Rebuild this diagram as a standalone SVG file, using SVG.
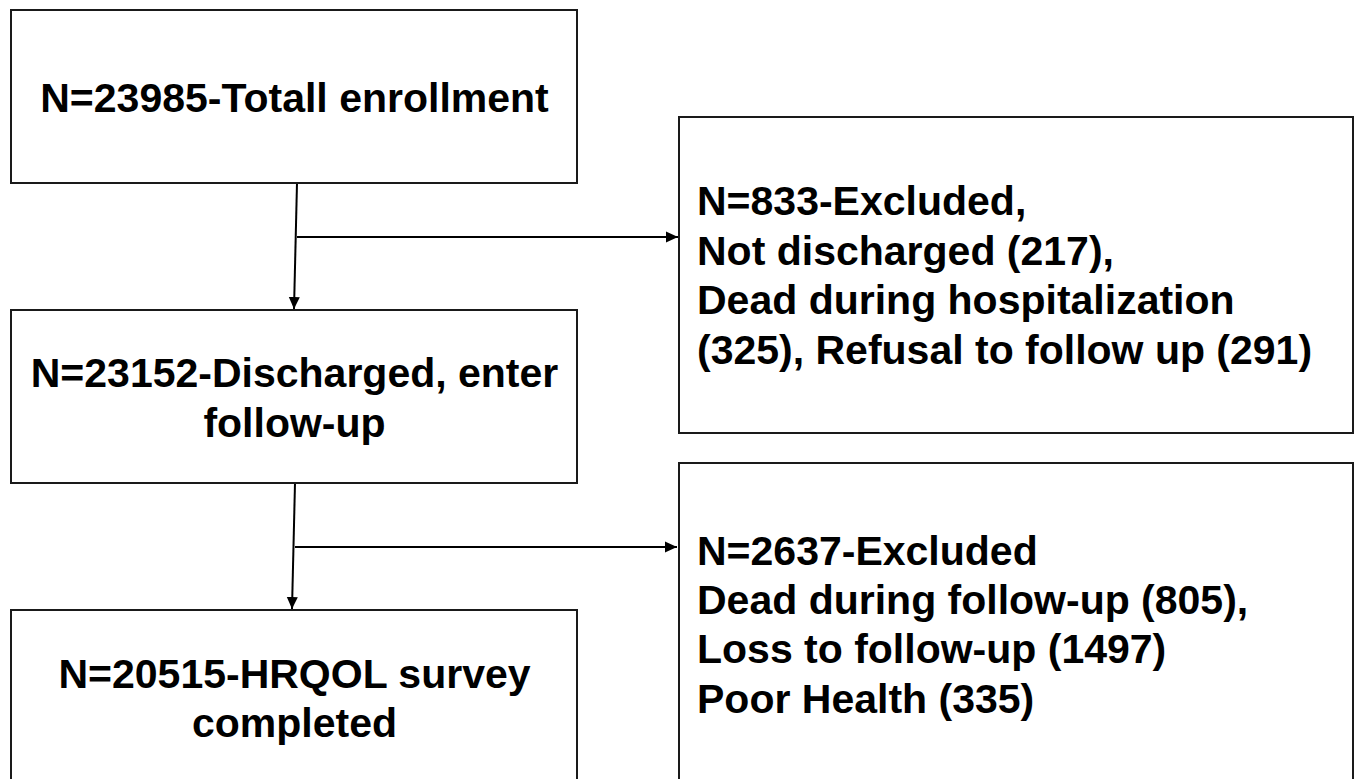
<svg xmlns="http://www.w3.org/2000/svg" width="1356" height="779" viewBox="0 0 1356 779">
<style>
.box{fill:#fff;stroke:#1a1a1a;stroke-width:2}
.t{font-family:"Liberation Sans",Arial,sans-serif;font-weight:bold;font-size:41px;fill:#000}
.c{text-anchor:middle}
.ln{fill:none;stroke:#000;stroke-width:2}
</style>
<defs>
<marker id="ah" markerUnits="userSpaceOnUse" markerWidth="12" markerHeight="12" viewBox="0 0 12 12" refX="12" refY="6" orient="auto">
<path d="M0,0.5 L12,6 L0,11.5 Z" fill="#000"/>
</marker>
</defs>
<rect width="1356" height="779" fill="#fff"/>
<g id="connectors">
<path class="ln" d="M297,183 L294,309" marker-end="url(#ah)"/>
<path class="ln" d="M297,237 L678,237" marker-end="url(#ah)"/>
<path class="ln" d="M295,483 L292,609" marker-end="url(#ah)"/>
<path class="ln" d="M295,547 L677,547" marker-end="url(#ah)"/>
</g>
<g id="n1">
<rect class="box" x="11" y="10" width="566" height="173"/>
<text class="t c" x="294.5" y="112">N=23985-Totall enrollment</text>
</g>
<g id="n2">
<rect class="box" x="11" y="310" width="566" height="173"/>
<text class="t c" x="294.5" y="387">N=23152-Discharged, enter</text>
<text class="t c" x="294.5" y="437">follow-up</text>
</g>
<g id="n3">
<rect class="box" x="11" y="610" width="566" height="190"/>
<text class="t c" x="294.5" y="688">N=20515-HRQOL survey</text>
<text class="t c" x="294.5" y="737">completed</text>
</g>
<g id="n4">
<rect class="box" x="679" y="117" width="674" height="316"/>
<text class="t" x="697" y="215">N=833-Excluded,</text>
<text class="t" x="697" y="264.5">Not discharged (217),</text>
<text class="t" x="697" y="314">Dead during hospitalization</text>
<text class="t" x="697" y="363.5">(325), Refusal to follow up (291)</text>
</g>
<g id="n5">
<rect class="box" x="679" y="463" width="674" height="340"/>
<text class="t" x="697" y="565">N=2637-Excluded</text>
<text class="t" x="697" y="614">Dead during follow-up (805),</text>
<text class="t" x="697" y="663">Loss to follow-up (1497)</text>
<text class="t" x="697" y="713">Poor Health (335)</text>
</g>
</svg>
